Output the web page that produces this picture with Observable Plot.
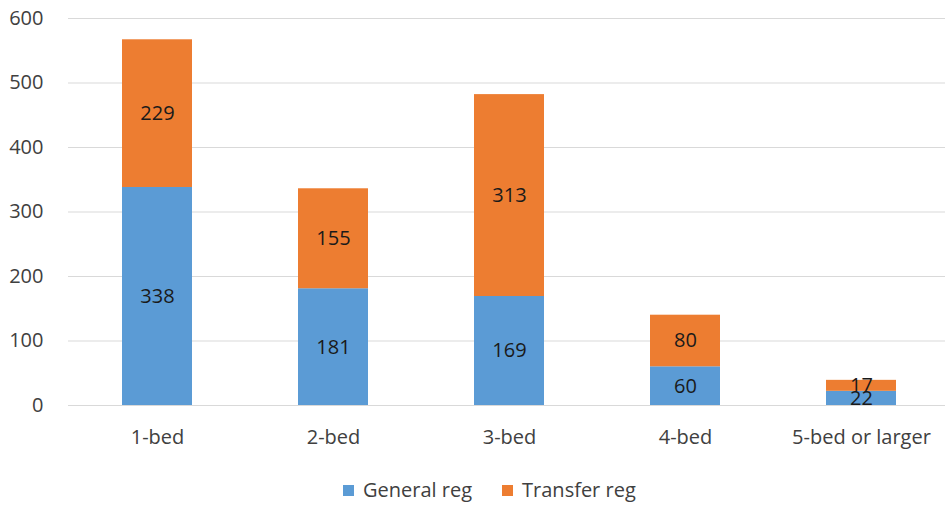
<!DOCTYPE html>
<html>
<head>
<meta charset="utf-8">
<script src="https://cdn.jsdelivr.net/npm/d3@7"></script>
<script src="https://cdn.jsdelivr.net/npm/@observablehq/plot@0.6"></script>
<style>
  body { margin: 0; background: #fff; font-family: "Open Sans", sans-serif; position: relative; width: 947px; height: 505px; }
  #legend { position: absolute; left: 343px; top: 477px; display: flex; gap: 30px; font-size: 20px; line-height: 26px; color: #404040; }
  #legend span.sw { display: inline-block; width: 11px; height: 11px; margin-right: 9px; }
  #legend div { display: flex; align-items: center; }
</style>
</head>
<body>
<div id="chart"></div>
<div id="legend"></div>
<script>
const categories = ["1-bed", "2-bed", "3-bed", "4-bed", "5-bed or larger"];
const seriesNames = ["General reg", "Transfer reg"];
const generalReg = [338, 181, 169, 60, 22];
const transferReg = [229, 155, 313, 80, 17];
const colors = ["#5B9BD5", "#ED7D31"];
const yTicks = [0, 100, 200, 300, 400, 500, 600];

const data = [];
categories.forEach((c, i) => data.push({cat: c, series: seriesNames[0], value: generalReg[i]}));
categories.forEach((c, i) => data.push({cat: c, series: seriesNames[1], value: transferReg[i]}));

const plot = Plot.plot({
  width: 947,
  height: 460,
  marginLeft: 68,
  marginRight: 2,
  marginTop: 18,
  marginBottom: 55,
  style: {fontFamily: "'Open Sans', sans-serif", fontSize: "20px", color: "#404040", background: "#fff"},
  x: {domain: categories, range: [66.6, 950.4], paddingInner: 0.604, paddingOuter: 0.302, label: null},
  y: {domain: [0, 600], label: null},
  color: {domain: seriesNames, range: colors},
  marks: [
    Plot.ruleY(yTicks, {stroke: "#D9D9D9", strokeWidth: 1}),
    Plot.axisY({ticks: yTicks, tickSize: 0, tickPadding: 25, label: null, fontSize: 20}),
    Plot.axisX({tickSize: 0, tickPadding: 24, label: null, fontSize: 20}),
    Plot.barY(data, {x: "cat", y: "value", fill: "series", order: seriesNames}),
    Plot.text(data, Plot.stackY({x: "cat", y: "value", z: "series", order: seriesNames, text: d => String(d.value), fill: "#1a1a1a", fontSize: 20}))
  ]
});
document.getElementById("chart").appendChild(plot);

const legend = document.getElementById("legend");
seriesNames.forEach((s, i) => {
  const d = document.createElement("div");
  d.innerHTML = `<span class="sw" style="background:${colors[i]}"></span>${s}`;
  legend.appendChild(d);
});
</script>
</body>
</html>
